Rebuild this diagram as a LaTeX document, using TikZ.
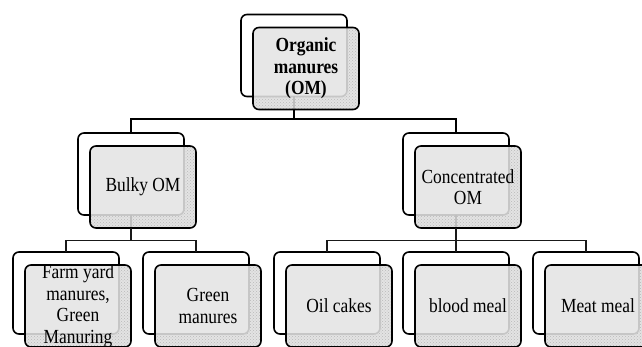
\documentclass[tikz,border=0pt]{standalone}
\usepackage{fontspec}
\setmainfont{Liberation Serif}[FakeStretch=0.87]
\usetikzlibrary{calc,patterns}
\pgfdeclarelayer{layzero}
\pgfdeclarelayer{layone}
\pgfdeclarelayer{laytwo}
\pgfsetlayers{layzero,layone,laytwo,main}
\tikzset{
  backbox/.style={draw=black, line width=1.6pt, fill=white, rounded corners=6pt,
    minimum width=106pt, minimum height=82pt, inner sep=0pt, outer sep=0pt},
  frontbox/.style={draw=black, line width=1.6pt, rounded corners=6pt,
    minimum width=106pt, minimum height=82pt, inner sep=0pt, outer sep=0pt},
  boxtext/.style={align=center, inner sep=0pt, font=\fontsize{20}{21.5}\selectfont},
  link/.style={line width=1.6pt, black},
  lowlink/.style={line width=1.6pt, black!90},
  seelink/.style={line width=1.4pt, gray!50},
}
\newcommand\pairnode[3]{%
  \begin{pgfonlayer}{layzero}
    \node[backbox] (#1b) at (#2) {};
  \end{pgfonlayer}
  \node[frontbox] (#1) at ($(#2)+(12,13)$) {};
  \node[boxtext] (#1t) at (#1.center) {#3};
  \begin{pgfonlayer}{layone}
    \fill[gray!22, rounded corners=6pt] (#1.south west) rectangle (#1.north east);
    \fill[pattern=crosshatch dots, pattern color=gray!55, rounded corners=6pt] (#1.south west) rectangle (#1.north east);
  \end{pgfonlayer}
  \begin{pgfonlayer}{laytwo}
    \begin{scope}
      \clip[rounded corners=6pt] (#1.south west) rectangle (#1.north east);
      \fill[gray!19, rounded corners=6pt] (#1b.south west) rectangle (#1b.north east);
      \draw[gray!45, line width=1.6pt, rounded corners=6pt] (#1b.south west) rectangle (#1b.north east);
    \end{scope}
  \end{pgfonlayer}
}
\begin{document}
\begin{tikzpicture}[x=1pt,y=-1pt]
\useasboundingbox (0,0) rectangle (642,347);
\pairnode{top}{294,55.5}{\textbf{Organic}\\\textbf{manures}\\\textbf{(OM)}}
\pairnode{bulky}{131,174}{Bulky OM}
\pairnode{conc}{456,174}{Concentrated\\OM}
\pairnode{farm}{66,293}{Farm yard\\manures,\\Green\\Manuring}
\pairnode{green}{196,293}{Green\\manures}
\pairnode{oil}{327,293}{Oil cakes}
\pairnode{blood}{456,293}{blood meal}
\pairnode{meat}{586,293}{Meat meal}
\coordinate (ja) at (0,119);
\coordinate (jb) at (0,240.5);
% see-through stems
\begin{pgfonlayer}{laytwo}
  \draw[seelink] (topb.south) -- (top.south -| topb.center);
  \draw[seelink] (bulkyb.south) -- (bulky.south -| bulkyb.center);
  \draw[seelink] (concb.south) -- (conc.south -| concb.center);
\end{pgfonlayer}
% connectors
\draw[link] (top.south -| topb.center) -- (ja -| topb.center) -| (bulkyb.north);
\draw[link] (ja -| topb.center) -| (concb.north);
\draw[lowlink] (bulky.south -| bulkyb.center) -- (jb -| bulkyb.center) -| (farmb.north);
\draw[lowlink] (jb -| bulkyb.center) -| (greenb.north);
\draw[lowlink] (conc.south -| concb.center) -- (jb -| concb.center) -| (oilb.north);
\draw[lowlink] (jb -| concb.center) -- (bloodb.north);
\draw[lowlink] (jb -| concb.center) -| (meatb.north);
\end{tikzpicture}
\end{document}
